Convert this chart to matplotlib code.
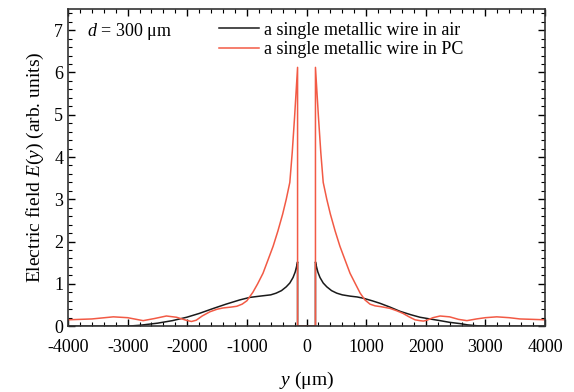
import matplotlib
matplotlib.use("Agg")
import matplotlib.pyplot as plt
from matplotlib.ticker import MultipleLocator

plt.rcParams['font.family'] = ['Liberation Serif', 'DejaVu Serif']
plt.rcParams['mathtext.fontset'] = 'custom'
plt.rcParams['mathtext.rm'] = 'Liberation Serif'
plt.rcParams['mathtext.it'] = 'Liberation Serif:italic'
plt.rcParams['axes.unicode_minus'] = False

# data (y in um, field in arb. units)
air_y = [-4000, -3000, -2800, -2500, -2250, -2010, -1800, -1560, -1350, -1120,
         -950, -780, -600, -510, -420, -340, -280, -226, -190, -165, -150, -150,
         150, 150, 165, 190, 226, 280, 340, 420, 507, 600, 730, 850, 953, 1100,
         1233, 1400, 1569, 1750, 1904, 2070, 2240, 2400, 2576, 2700, 2850, 3000, 4000]
air_e = [0.0, 0.0, 0.02, 0.07, 0.13, 0.21, 0.30, 0.42, 0.52, 0.62,
         0.68, 0.71, 0.74, 0.78, 0.84, 0.93, 1.02, 1.15, 1.28, 1.42, 1.52, 0.0,
         0.0, 1.52, 1.42, 1.28, 1.15, 1.02, 0.93, 0.84, 0.78, 0.74, 0.71, 0.69, 0.66, 0.60,
         0.54, 0.45, 0.35, 0.27, 0.21, 0.17, 0.13, 0.09, 0.06, 0.03, 0.01, 0.0, 0.0]

pc_y = [-4000, -3600, -3240, -3000, -2740, -2550, -2350, -2180, -2020, -1930,
        -1850, -1750, -1620, -1500, -1400, -1270, -1170, -1080, -1000, -900,
        -820, -730, -650, -560, -480, -400, -340, -280, -240, -200, -150, -150,
        150, 150, 200, 240, 280, 340, 400, 480, 560, 650, 730, 820, 900,
        980, 1065, 1150, 1250, 1400, 1520, 1620, 1720, 1820, 1900, 1960, 2020,
        2120, 2240, 2400, 2550, 2690, 2850, 3000, 3190, 3400, 3580, 3800, 4000]
pc_e = [0.15, 0.17, 0.22, 0.20, 0.13, 0.18, 0.24, 0.21, 0.14, 0.11,
        0.14, 0.24, 0.34, 0.40, 0.43, 0.45, 0.47, 0.52, 0.60, 0.80,
        1.00, 1.25, 1.55, 1.89, 2.25, 2.65, 3.00, 3.40, 4.10, 4.95, 6.12, 0.0,
        0.0, 6.12, 4.95, 4.10, 3.40, 3.00, 2.65, 2.25, 1.89, 1.55, 1.25, 1.00, 0.78,
        0.62, 0.52, 0.48, 0.46, 0.42, 0.36, 0.30, 0.22, 0.15, 0.13, 0.12, 0.14,
        0.20, 0.24, 0.22, 0.16, 0.13, 0.17, 0.20, 0.22, 0.20, 0.17, 0.16, 0.15]

fig = plt.figure(figsize=(5.74, 3.92), dpi=100)
ax = fig.add_axes([0.1185, 0.168, 0.831, 0.809])

ax.plot(air_y, air_e, color='#1a1a1a', lw=1.1, label='a single metallic wire in air')
ax.plot(pc_y, pc_e, color='#f25a45', lw=1.1, label='a single metallic wire in PC')

ax.set_xlim(-4000, 4000)
ax.set_ylim(0, 7.5)
ax.xaxis.set_major_locator(MultipleLocator(1000))
ax.xaxis.set_minor_locator(MultipleLocator(200))
ax.yaxis.set_major_locator(MultipleLocator(1))
ax.yaxis.set_minor_locator(MultipleLocator(0.2))
ax.tick_params(which='both', direction='in', top=True, right=True, labelsize=13)
ax.tick_params(which='major', length=5, width=1)
ax.tick_params(which='minor', length=3, width=0.8)
ax.tick_params(axis='x', pad=9)
for s in ax.spines.values():
    s.set_linewidth(1.2)
    s.set_color('#333333')

ax.set_xlabel('$y$ (μm)', fontsize=14, labelpad=10)
ax.set_ylabel('Electric field $E$($y$) (arb. units)', fontsize=14, labelpad=6)

ax.text(0.04, 0.93, '$d$ = 300 μm', transform=ax.transAxes, fontsize=13, va='center')
ax.legend(loc='upper left', bbox_to_anchor=(0.29, 1.0), frameon=False, fontsize=13,
          handlelength=2.2, handletextpad=0.3, labelspacing=0.15, borderaxespad=0.3)

fig.savefig('out.png', dpi=100)
